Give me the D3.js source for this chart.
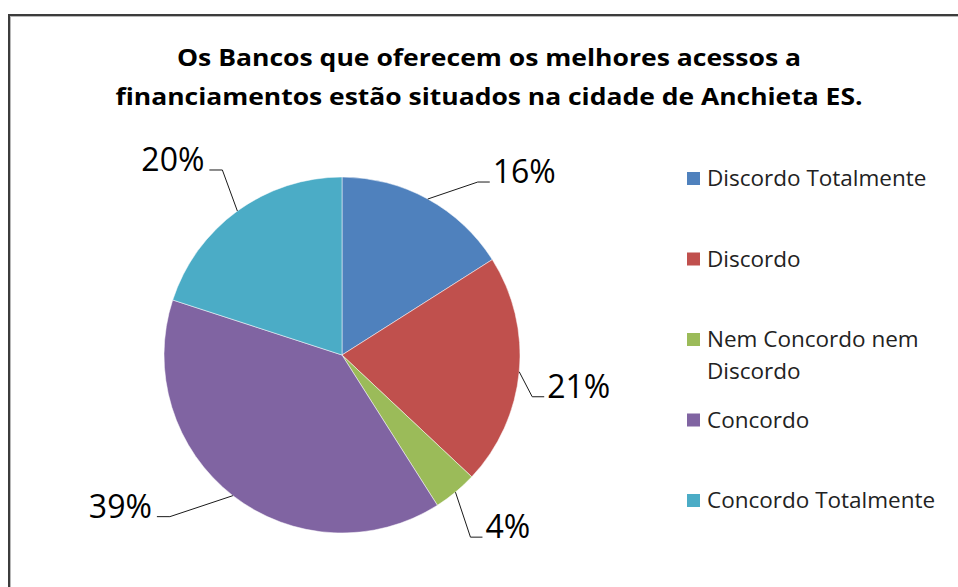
<!DOCTYPE html>
<html><head><meta charset="utf-8">
<script src="https://cdn.jsdelivr.net/npm/d3@7"></script>
<style>body{margin:0;background:#fff}svg{display:block}</style>
</head><body>
<script>
const titleLines = ["Os Bancos que oferecem os melhores acessos a", "financiamentos estão situados na cidade de Anchieta ES."];
const categories = ["Discordo Totalmente", "Discordo", "Nem Concordo nem Discordo", "Concordo", "Concordo Totalmente"];
const legendLines = [["Discordo Totalmente"], ["Discordo"], ["Nem Concordo nem", "Discordo"], ["Concordo"], ["Concordo Totalmente"]];
const values = [16, 21, 4, 39, 20];
const colors = ["#4F81BD", "#C0504D", "#9BBB59", "#8064A2", "#4BACC6"];
// leader-line elbow offsets relative to the slice edge (layout only)
const leaderOffsets = [[50, -17], [13, 25], [15, 45], [-63, 21], [-15, -41]];

const W = 958, H = 587;
const svg = d3.select("body").append("svg").attr("width", W).attr("height", H);

// frame
svg.append("rect").attr("x", 9).attr("y", 15).attr("width", 1000).attr("height", 700)
  .attr("fill", "none").attr("stroke", "#3c3c3c").attr("stroke-width", 2);
svg.append("rect").attr("x", 10.5).attr("y", 16.5).attr("width", 1000).attr("height", 700)
  .attr("fill", "none").attr("stroke", "#b8b8b8").attr("stroke-width", 1);

// title
const titleW = [624, 747];
svg.selectAll("text.title").data(titleLines).join("text")
  .attr("class", "title")
  .attr("x", 489).attr("y", (d, i) => 66 + i * 39)
  .attr("text-anchor", "middle")
  .attr("font-family", "'Open Sans', sans-serif").attr("font-weight", 700).attr("font-size", 24)
  .attr("textLength", (d, i) => titleW[i]).attr("lengthAdjust", "spacingAndGlyphs")
  .attr("fill", "#000").text(d => d);

// pie
const cx = 342, cy = 355, R = 178;
const pie = d3.pie().sort(null).value(d => d).startAngle(0).endAngle(2 * Math.PI);
const arcs = pie(values);
const arc = d3.arc().innerRadius(0).outerRadius(R);
const edgeArc = d3.arc().innerRadius(R).outerRadius(R);
const color = d3.scaleOrdinal().domain(categories).range(colors);

const g = svg.append("g").attr("transform", `translate(${cx},${cy})`);
g.selectAll("path.slice").data(arcs).join("path")
  .attr("class", "slice")
  .attr("d", arc)
  .attr("fill", (d, i) => color(categories[i]))
  .attr("stroke", "#fff").attr("stroke-width", 0.5);

// leader lines + labels
const total = d3.sum(values);
arcs.forEach((a, i) => {
  const e = edgeArc.centroid(a);
  const off = leaderOffsets[i];
  const elbow = [e[0] + off[0], e[1] + off[1]];
  const right = off[0] > 0 && (a.startAngle + a.endAngle) / 2 < Math.PI;
  const endX = elbow[0] + (right ? 12 : -13);
  g.append("path")
    .attr("d", d3.line()([e, elbow, [endX, elbow[1]]]))
    .attr("fill", "none").attr("stroke", "#1a1a1a").attr("stroke-width", 1);
  g.append("text")
    .attr("x", endX + (right ? 3 : -5)).attr("y", elbow[1] + 1)
    .attr("text-anchor", right ? "start" : "end")
    .attr("font-family", "'Open Sans', sans-serif").attr("font-size", 32)
    .attr("fill", "#000")
    .text(Math.round(values[i] / total * 100) + "%");
});

// legend
const legY = d3.scalePoint().domain(categories).range([186, 508]);
const leg = svg.append("g");
categories.forEach((c, i) => {
  const y = legY(c);
  leg.append("rect").attr("x", 687).attr("y", y - 14).attr("width", 13).attr("height", 13)
    .attr("fill", color(c));
  legendLines[i].forEach((t, j) => {
    leg.append("text").attr("x", 707).attr("y", y + j * 32)
      .attr("font-family", "'Open Sans', sans-serif").attr("font-size", 22.5)
      .attr("fill", "#222").text(t);
  });
});
</script>
</body></html>
